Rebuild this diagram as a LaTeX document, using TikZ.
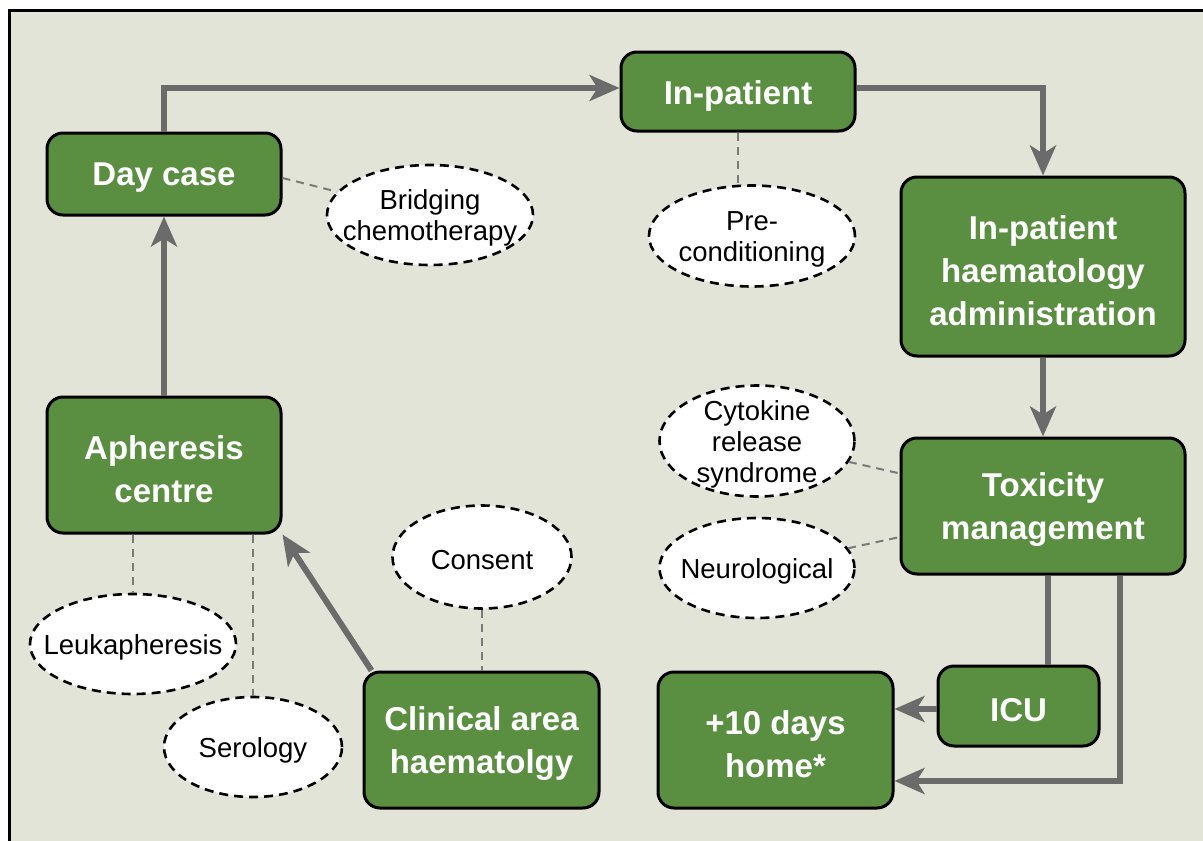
\documentclass[tikz,border=0pt]{standalone}
\usepackage{fontspec}
\setmainfont{Liberation Sans}
\usetikzlibrary{shapes.geometric,arrows.meta,calc}
\definecolor{bgc}{HTML}{E1E4D6}
\definecolor{boxgreen}{HTML}{5A8F41}
\definecolor{arrowgrey}{HTML}{6B6B6B}
\definecolor{linkgrey}{HTML}{7A7A7A}
\tikzset{
  box/.style={draw=black, line width=3pt, fill=boxgreen, rounded corners=16pt, inner sep=0pt},
  boxtext/.style={text=white, font=\bfseries\fontsize{33}{43}\selectfont, align=center, inner sep=0pt, yshift=-4pt},
  oval/.style={ellipse, draw=black, line width=2.6pt, dash pattern=on 9pt off 6pt, fill=white, inner sep=0pt},
  ovaltext/.style={text=black, font=\fontsize{27.5}{31}\selectfont, align=center, inner sep=0pt, yshift=-3pt},
  flow/.style={draw=arrowgrey, line width=6pt, -{Stealth[length=30pt,width=26pt,inset=8pt]}},
  flowplain/.style={draw=arrowgrey, line width=6pt},
  link/.style={draw=linkgrey, line width=2pt, dash pattern=on 8pt off 6pt}
}
\begin{document}
\begin{tikzpicture}[x=1pt,y=-1pt]
\useasboundingbox (0,0) rectangle (1203,841);
\fill[white] (0,0) rectangle (1203,841);
\fill[bgc] (9.5,10.5) rectangle (1203,841);
\draw[black, line width=3pt] (9.5,841) -- (9.5,10.5) -- (1203,10.5);

% boxes
\node[box, minimum width=234pt, minimum height=82pt, label={[boxtext]center:Day case}] (daycase) at (164,174) {};
\node[box, minimum width=234pt, minimum height=79pt, label={[boxtext]center:In-patient}] (inpat) at (738,91.5) {};
\node[box, minimum width=284pt, minimum height=179pt, label={[boxtext]center:In-patient\\haematology\\administration}] (admin) at (1043,266.5) {};
\node[box, minimum width=284pt, minimum height=136pt, label={[boxtext]center:Toxicity\\management}] (tox) at (1043,506) {};
\node[box, minimum width=161pt, minimum height=80pt, label={[boxtext]center:ICU}] (icu) at (1018.5,706) {};
\node[box, minimum width=235pt, minimum height=136pt, label={[boxtext]center:+10 days\\home*}] (home) at (775.5,740) {};
\node[box, minimum width=234pt, minimum height=136pt, label={[boxtext]center:Apheresis\\centre}] (apher) at (164,465) {};
\node[box, minimum width=235pt, minimum height=136pt, label={[boxtext]center:Clinical area\\haematolgy}] (clin) at (481.5,740) {};

% ovals
\node[oval, minimum width=206pt, minimum height=100pt, label={[ovaltext]center:Bridging\\chemotherapy}] (bridge) at (430,215) {};
\node[oval, minimum width=206pt, minimum height=101pt, label={[ovaltext]center:Pre-\\conditioning}] (precond) at (752,236) {};
\node[oval, minimum width=195pt, minimum height=111pt, label={[ovaltext]center:Cytokine\\release\\syndrome}] (cyto) at (757,441) {};
\node[oval, minimum width=195pt, minimum height=100pt, label={[ovaltext]center:Neurological}] (neuro) at (757,568) {};
\node[oval, minimum width=179pt, minimum height=103pt, label={[ovaltext]center:Consent}] (consent) at (482,557) {};
\node[oval, minimum width=206pt, minimum height=100pt, label={[ovaltext]center:Leukapheresis}] (leuk) at (133,644) {};
\node[oval, minimum width=178pt, minimum height=100pt, label={[ovaltext]center:Serology}] (sero) at (253,747) {};

% flow arrows
\draw[flow] (daycase.north) |- ([yshift=3.5pt]inpat.west);
\draw[flow] ([yshift=3.5pt]inpat.east) -| (admin.north);
\draw[flow] (admin.south) -- (tox.north);
\draw[flowplain] ([xshift=5pt]tox.south) -- ([xshift=5pt]tox.south |- icu.north);
\draw[flow] ([xshift=77pt]tox.south) |- ([yshift=-41pt]home.east);
\draw[flow] ([yshift=-3pt]icu.west) -- ([yshift=-3pt]icu.west -| home.east);
\draw[flow] (apher.north) -- (daycase.south);
\draw[flow] ([xshift=9pt]clin.north west) -- (apher.south east);

% dashed links
\draw[link] ([yshift=-4pt]daycase.east) -- (bridge);
\draw[link] (inpat.south) -- (inpat.south |- precond.north);
\draw[link] (cyto) -- (tox);
\draw[link] (neuro) -- (tox);
\draw[link] (leuk.north |- apher.south) -- (leuk.north);
\draw[link] (sero.north |- apher.south) -- (sero.north);
\draw[link] (consent.south) -- (consent.south |- clin.north);
\end{tikzpicture}
\end{document}
